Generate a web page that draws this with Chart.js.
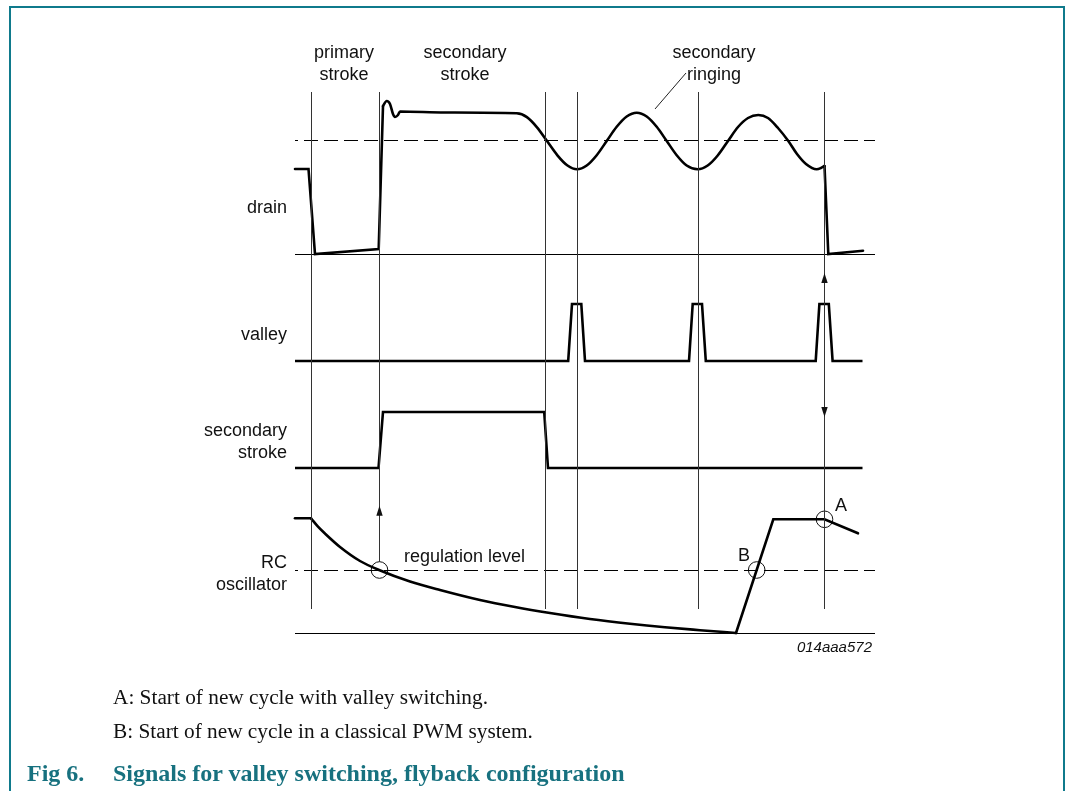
<!DOCTYPE html>
<html><head><meta charset="utf-8">
<script src="https://cdn.jsdelivr.net/npm/chart.js@4.4.1/dist/chart.umd.min.js"></script>
<style>
html,body{margin:0;padding:0;background:#fff;}
#wrap{position:relative;width:1066px;height:791px;overflow:hidden;background:#fff;}
#c{position:absolute;left:0;top:0;}
.frame{position:absolute;background:#0f7a8c;}
.lbl{position:absolute;font-family:"Liberation Sans",Arial,Helvetica,sans-serif;font-size:18px;line-height:22px;color:#111;white-space:nowrap;}
.ctr{text-align:center;width:160px;}
.rgt{text-align:right;}
.cap{position:absolute;font-family:"Liberation Serif","Times New Roman",serif;font-size:21.3px;line-height:26px;color:#111;white-space:nowrap;}
.ttl{position:absolute;font-family:"Liberation Serif","Times New Roman",serif;font-size:24px;line-height:26px;font-weight:bold;color:#17717f;white-space:nowrap;}
</style></head>
<body>
<div id="wrap">
  <canvas id="c" width="1066" height="791"></canvas>
  <div class="frame" style="left:9px;top:6px;width:1056px;height:2px"></div>
  <div class="frame" style="left:9px;top:6px;width:2px;height:800px"></div>
  <div class="frame" style="left:1063px;top:6px;width:2px;height:800px"></div>

  <div class="lbl ctr" style="left:264px;top:41px">primary<br>stroke</div>
  <div class="lbl ctr" style="left:385px;top:41px">secondary<br>stroke</div>
  <div class="lbl ctr" style="left:634px;top:41px">secondary<br>ringing</div>

  <div class="lbl rgt" style="right:779px;top:196px">drain</div>
  <div class="lbl rgt" style="right:779px;top:323px">valley</div>
  <div class="lbl rgt" style="right:779px;top:419px">secondary<br>stroke</div>
  <div class="lbl rgt" style="right:779px;top:551px">RC<br>oscillator</div>
  <div class="lbl" style="left:404px;top:545px">regulation level</div>
  <div class="lbl" style="left:738px;top:544px">B</div>
  <div class="lbl" style="left:835px;top:494px">A</div>
  <div class="lbl rgt" style="right:194px;top:636px;font-style:italic;font-size:15px">014aaa572</div>

  <div class="cap" style="left:113px;top:684px">A: Start of new cycle with valley switching.</div>
  <div class="cap" style="left:113px;top:718px">B: Start of new cycle in a classical PWM system.</div>
  <div class="ttl" style="left:27px;top:760px">Fig 6.</div>
  <div class="ttl" style="left:113px;top:760px">Signals for valley switching, flyback configuration</div>
</div>
<script>
// ---- data (time units: x, level units: y) ----
// drain: switch-on edge (straight), ringing part (smooth), switch-off edge (straight)
const drainEdgeTime  = [0, 1.35, 2.0, 8.37, 8.8];
const drainEdgeLevel = [8.5, 8.5, 0, 0.5, 14.8];
const drainRingTime  = [8.8, 9.17, 9.5, 9.8, 10.0, 10.3, 10.5, 15, 22.17, 23.19, 24.2, 25.22, 26.24, 27.25, 28.2, 29.17, 30.17, 31.17, 32.17, 33.17, 34.17, 35.17, 36.17, 37.17, 38.17, 39.17, 40.27, 41.27, 42.27, 43.3, 44.3, 45.3, 46.33, 47.3, 48.3, 49.33, 50.2, 51.1, 52.17, 52.6, 52.95];
const drainRingLevel = [14.8, 15.3, 15.0, 14.0, 13.7, 13.9, 14.25, 14.15, 14.07, 13.69, 12.67, 11.27, 9.87, 8.85, 8.47, 8.85, 9.88, 11.3, 12.72, 13.75, 14.13, 13.75, 12.72, 11.3, 9.88, 8.85, 8.47, 8.85, 9.85, 11.3, 12.7, 13.6, 13.9, 13.6, 12.6, 11.3, 10.0, 9.0, 8.47, 8.6, 8.8];
const drainOffTime   = [52.95, 53.33, 56.8];
const drainOffLevel  = [8.8, 0, 0.33];

const valleyTime  = [0, 27.32, 27.7, 28.63, 29.0, 39.4, 39.77, 40.7, 41.08, 52.07, 52.44, 53.38, 53.76, 56.75];
const valleyLevel = [0, 0, 5.7, 5.7, 0, 0, 5.7, 5.7, 0, 0, 5.7, 5.7, 0, 0];

const strokeTime  = [0, 8.35, 8.8, 24.92, 25.3, 56.75];
const strokeLevel = [0, 0, 5.6, 5.6, 0, 0];

const rcHoldTime   = [0, 1.6];
const rcHoldLevel  = [11.47, 11.47];
const rcDecayTime  = [1.6, 2.3, 3.0, 4.5, 6.5, 8.4, 11.5, 14.5, 18.5, 22.0, 25.5, 29.5, 33.5, 37.0, 40.5, 44.1];
const rcDecayLevel = [11.47, 10.63, 9.94, 8.6, 7.2, 6.3, 5.15, 4.3, 3.3, 2.6, 2.0, 1.4, 0.92, 0.57, 0.28, 0];
const rcRampTime   = [44.1, 47.83, 52.95, 56.3];
const rcRampLevel  = [0, 11.37, 11.37, 9.97];

const drainThreshold  = 11.35;  // dashed level in drain trace
const regulationLevel = 6.25;   // dashed level in RC trace

const markerTime = [1.65, 8.45, 25.05, 28.25, 40.35, 52.95];
const circleTime  = [8.45, 46.17, 52.95];
const circleLevel = [6.3, 6.3, 11.37];

// lane offsets (where each trace's zero sits)
const lane = {drain: 37.9, valley: 27.2, stroke: 16.5, rc: 0};
const T0 = 0, T1 = 58, YMAX = 54.3;

const pts = (ts, vs, off) => ts.map((t, i) => ({x: t, y: vs[i] + off}));
const hline = (y) => [{x: T0, y}, {x: T1, y}];

const thin = {borderColor: '#333', borderWidth: 1, pointRadius: 0, showLine: true, fill: false, clip: false};
const trace = {borderColor: '#000', borderWidth: 2.6, pointRadius: 0, showLine: true, fill: false, clip: false, borderJoinStyle: 'miter'};
const smooth = {...trace, cubicInterpolationMode: 'monotone', borderCapStyle: 'round'};

const datasets = [];
markerTime.forEach((t, i) => {
  const bottom = i === 1 ? circleLevel[0] + 0.8 : 2.4;
  datasets.push({...thin, data: [{x: t, y: 54.1}, {x: t, y: bottom}]});
});
datasets.push({...thin, borderWidth: 1.2, borderColor: '#000', data: hline(lane.drain - 0.05)});
datasets.push({...thin, borderWidth: 1.2, borderColor: '#000', data: hline(lane.rc - 0.05)});
datasets.push({...thin, borderWidth: 1.1, borderColor: '#000', borderDash: [14, 6], borderDashOffset: 11, data: hline(lane.drain + drainThreshold)});
datasets.push({...thin, borderWidth: 1.1, borderColor: '#000', borderDash: [14, 6], borderDashOffset: 11, data: hline(lane.rc + regulationLevel)});
datasets.push({...thin, borderColor: '#222', data: [{x: 39.1, y: 56.0}, {x: 36.0, y: 52.4}]});
datasets.push({...trace, borderCapStyle: 'round', data: pts(drainEdgeTime, drainEdgeLevel, lane.drain)});
datasets.push({...smooth, data: pts(drainRingTime, drainRingLevel, lane.drain)});
datasets.push({...trace, borderCapStyle: 'round', data: pts(drainOffTime, drainOffLevel, lane.drain)});
datasets.push({...trace, data: pts(valleyTime, valleyLevel, lane.valley)});
datasets.push({...trace, data: pts(strokeTime, strokeLevel, lane.stroke)});
datasets.push({...trace, borderCapStyle: 'round', data: pts(rcHoldTime, rcHoldLevel, lane.rc)});
datasets.push({...smooth, data: pts(rcDecayTime, rcDecayLevel, lane.rc)});
datasets.push({...trace, borderCapStyle: 'round', data: pts(rcRampTime, rcRampLevel, lane.rc)});
datasets.push({data: pts(circleTime, circleLevel, lane.rc), showLine: false, pointRadius: 8.3, pointStyle: 'circle',
  pointBorderColor: '#111', pointBackgroundColor: 'rgba(0,0,0,0)', pointBorderWidth: 1, clip: false});

const arrowHeads = [{t: 8.45, y: 12.73, dir: 1}, {t: 52.95, y: 36.0, dir: 1}, {t: 52.95, y: 21.6, dir: -1}];
const arrowPlugin = {
  id: 'arrows',
  afterDatasetsDraw(chart) {
    const {ctx, scales: {x, y}} = chart;
    ctx.save();
    ctx.fillStyle = '#111';
    arrowHeads.forEach(a => {
      const px = x.getPixelForValue(a.t), py = y.getPixelForValue(a.y);
      ctx.beginPath();
      ctx.moveTo(px, py);
      ctx.lineTo(px - 3.2, py + a.dir * 10);
      ctx.lineTo(px + 3.2, py + a.dir * 10);
      ctx.closePath();
      ctx.fill();
    });
    ctx.restore();
  }
};

new Chart(document.getElementById('c'), {
  type: 'scatter',
  data: {datasets},
  options: {
    responsive: false, animation: false, events: [],
    layout: {padding: {left: 295, right: 191, top: 90, bottom: 158}},
    plugins: {legend: {display: false}, tooltip: {enabled: false}},
    elements: {line: {capBezierPoints: false}},
    scales: {
      x: {type: 'linear', min: T0, max: T1, display: false},
      y: {type: 'linear', min: 0, max: YMAX, display: false}
    }
  },
  plugins: [arrowPlugin]
});
</script>
</body></html>
